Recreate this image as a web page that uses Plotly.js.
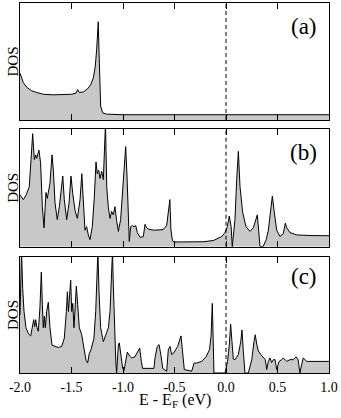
<!DOCTYPE html>
<html>
<head>
<meta charset="utf-8">
<script src="https://cdn.plot.ly/plotly-3.0.1.min.js"></script>
<style>
  html, body { margin: 0; padding: 0; background: #fff; }
  #chart { width: 341px; height: 418px; }
</style>
</head>
<body>
<div id="chart"></div>
<script>
// Energies (eV, relative to E_F) and DOS (arb. units, panel height = 1)
const energyA = [-2.0, -1.993, -1.984, -1.968, -1.935, -1.887, -1.838, -1.773, -1.676, -1.579,
  -1.498, -1.456, -1.44, -1.424, -1.385, -1.346, -1.314, -1.288, -1.269, -1.256,
  -1.248, -1.24, -1.235, -1.23, -1.217, -1.197, -1.159, -1.0, -0.8, -0.6,
  -0.42, -0.4, -0.2, 0.0, 0.2, 0.25, 0.4, 0.6, 0.7, 0.78, 0.9, 1.0];
const dosA = [0.40, 0.38, 0.345, 0.32, 0.28, 0.25, 0.235, 0.22, 0.215, 0.215,
  0.22, 0.23, 0.26, 0.235, 0.24, 0.265, 0.30, 0.36, 0.46, 0.60,
  0.72, 0.84, 0.65, 0.46, 0.12, 0.06, 0.05, 0.045, 0.045, 0.045,
  0.05, 0.045, 0.045, 0.045, 0.045, 0.05, 0.045, 0.045, 0.05, 0.05, 0.05, 0.045];

const energyB = [-2.0, -1.993, -1.968, -1.94, -1.91, -1.893, -1.877, -1.861, -1.848, -1.838,
  -1.816, -1.8, -1.783, -1.767, -1.748, -1.735, -1.709, -1.689, -1.676, -1.66,
  -1.638, -1.618, -1.595, -1.585, -1.57, -1.547, -1.524, -1.505, -1.488, -1.466,
  -1.443, -1.417, -1.40, -1.385, -1.369, -1.353, -1.337, -1.32, -1.298, -1.278,
  -1.262, -1.25, -1.236, -1.223, -1.207, -1.191, -1.18, -1.175, -1.17, -1.158,
  -1.142, -1.126, -1.11, -1.094, -1.078, -1.062, -1.045, -1.023, -1.007, -0.99,
  -0.974, -0.961, -0.948, -0.939, -0.925, -0.91, -0.893, -0.877, -0.861, -0.835,
  -0.803, -0.786, -0.77, -0.754, -0.70, -0.65, -0.61, -0.576, -0.56, -0.545,
  -0.535, -0.52, -0.5, -0.3, -0.22, -0.12, -0.04, -0.01, 0.013, 0.032,
  0.05, 0.061, 0.075, 0.087, 0.104, 0.12, 0.136, 0.162, 0.194, 0.233,
  0.265, 0.291, 0.304, 0.317, 0.33, 0.36, 0.39, 0.411, 0.434, 0.45,
  0.466, 0.492, 0.524, 0.556, 0.576, 0.59, 0.621, 0.686, 0.815, 1.0];
const dosB = [0.44, 0.43, 0.40, 0.44, 0.51, 0.74, 0.96, 0.74, 0.78, 0.75,
  0.82, 0.71, 0.34, 0.16, 0.46, 0.41, 0.54, 0.78, 0.65, 0.37,
  0.23, 0.34, 0.57, 0.60, 0.40, 0.23, 0.37, 0.60, 0.45, 0.31,
  0.24, 0.40, 0.62, 0.40, 0.14, 0.17, 0.10, 0.06, 0.17, 0.43,
  0.72, 0.62, 0.65, 0.58, 0.64, 0.57, 0.80, 1.05, 1.05, 0.51,
  0.33, 0.24, 0.30, 0.27, 0.34, 0.22, 0.13, 0.23, 0.43, 0.60,
  0.85, 0.60, 0.23, 0.045, 0.17, 0.18, 0.17, 0.18, 0.12, 0.08,
  0.085, 0.19, 0.16, 0.15, 0.14, 0.14, 0.145, 0.18, 0.28, 0.40,
  0.15, 0.05, 0.04, 0.04, 0.042, 0.053, 0.087, 0.12, 0.17, 0.26,
  0.17, 0.0, 0.10, 0.23, 0.57, 0.81, 0.51, 0.29, 0.17, 0.13,
  0.16, 0.23, 0.27, 0.14, 0.0, 0.0, 0.06, 0.14, 0.34, 0.43,
  0.31, 0.14, 0.087, 0.11, 0.20, 0.16, 0.12, 0.10, 0.095, 0.093];

const energyC = [-2.0, -1.995, -1.99, -1.985, -1.974, -1.961, -1.942, -1.919, -1.896, -1.877,
  -1.867, -1.857, -1.848, -1.835, -1.822, -1.806, -1.793, -1.783, -1.774, -1.764,
  -1.754, -1.741, -1.725, -1.709, -1.689, -1.66, -1.628, -1.595, -1.57, -1.55,
  -1.54, -1.53, -1.521, -1.508, -1.498, -1.488, -1.476, -1.463, -1.453, -1.44,
  -1.424, -1.401, -1.379, -1.359, -1.343, -1.327, -1.311, -1.298, -1.282, -1.265,
  -1.256, -1.248, -1.244, -1.233, -1.217, -1.191, -1.165, -1.142, -1.126, -1.113,
  -1.106, -1.102, -1.094, -1.084, -1.07, -1.062, -1.055, -1.045, -1.036, -1.023,
  -1.003, -0.99, -0.971, -0.958, -0.94, -0.916, -0.884, -0.851, -0.838, -0.822,
  -0.81, -0.70, -0.689, -0.667, -0.65, -0.631, -0.614, -0.576, -0.56, -0.544,
  -0.528, -0.51, -0.469, -0.437, -0.424, -0.405, -0.333, -0.31, -0.285, -0.236,
  -0.194, -0.16, -0.145, -0.133, -0.125, -0.117, -0.01, 0.015, 0.032, 0.045,
  0.058, 0.071, 0.087, 0.12, 0.143, 0.155, 0.168, 0.184, 0.217, 0.25,
  0.272, 0.284, 0.298, 0.314, 0.337, 0.362, 0.382, 0.395, 0.411, 0.427,
  0.443, 0.46, 0.476, 0.492, 0.515, 0.541, 0.556, 0.589, 0.621, 0.654,
  0.68, 0.70, 0.718, 0.734, 0.75, 0.783, 0.88, 1.0];
const dosC = [0.50, 0.80, 1.05, 1.05, 0.73, 0.53, 0.39, 0.34, 0.32, 0.42,
  0.46, 0.40, 0.46, 0.39, 0.36, 0.57, 0.87, 0.59, 0.39, 0.49,
  0.39, 0.53, 0.61, 0.39, 0.24, 0.23, 0.22, 0.23, 0.30, 0.53,
  0.70, 0.53, 0.675, 0.80, 0.53, 0.60, 0.39, 0.65, 0.75, 0.59,
  0.39, 0.33, 0.22, 0.11, 0.086, 0.17, 0.20, 0.24, 0.30, 0.53,
  0.82, 1.05, 1.05, 0.70, 0.39, 0.27, 0.33, 0.39, 0.53, 0.76,
  1.05, 1.05, 0.76, 0.39, 0.10, 0.0, 0.10, 0.24, 0.26, 0.16,
  0.04, 0.02, 0.13, 0.18, 0.15, 0.13, 0.14, 0.19, 0.215, 0.10,
  0.04, 0.04, 0.13, 0.23, 0.245, 0.15, 0.04, 0.015, 0.20, 0.23,
  0.16, 0.17, 0.23, 0.32, 0.20, 0.03, 0.015, 0.086, 0.086, 0.10,
  0.14, 0.20, 0.32, 0.60, 0.30, 0.0, 0.0, 0.10, 0.24, 0.42,
  0.27, 0.12, 0.115, 0.16, 0.27, 0.37, 0.19, 0.0, 0.0, 0.115,
  0.27, 0.33, 0.25, 0.19, 0.16, 0.13, 0.115, 0.03, 0.10, 0.13,
  0.09, 0.115, 0.115, 0.03, 0.10, 0.115, 0.13, 0.10, 0.115, 0.115,
  0.14, 0.115, 0.0, 0.07, 0.13, 0.10, 0.10, 0.10];

const tickVals = [-2.0, -1.5, -1.0, -0.5, 0.0, 0.5, 1.0];
const tickText = ['-2.0', '-1.5', '-1.0', '-0.5', '0.0', '0.5', '1.0'];
const panelLabels = ['(a)', '(b)', '(c)'];

const serif = '"Liberation Serif", "Times New Roman", Times, serif';

const panels = [
  { x: energyA, y: dosA, xa: 'x', ya: 'y', domain: [0.6838, 1.0] },
  { x: energyB, y: dosB, xa: 'x2', ya: 'y2', domain: [0.3414, 0.6595] },
  { x: energyC, y: dosC, xa: 'x3', ya: 'y3', domain: [0.0, 0.3135] },
];

const traces = panels.map(p => ({
  x: p.x,
  y: p.y,
  xaxis: p.xa,
  yaxis: p.ya,
  type: 'scatter',
  mode: 'lines',
  line: { color: '#000', width: 1 },
  fill: 'tozeroy',
  fillcolor: '#c8c8c8',
  hoverinfo: 'skip',
  showlegend: false,
}));

const layout = {
  width: 341,
  height: 418,
  margin: { l: 20, r: 12, t: 3, b: 45 },
  paper_bgcolor: '#fff',
  plot_bgcolor: '#fff',
  font: { family: serif, color: '#000', size: 14 },
  showlegend: false,
  shapes: [],
  annotations: [{
    // x-axis title, placed by hand under the tick labels
    xref: 'paper', yref: 'paper',
    x: 0.5, y: -0.075,
    xanchor: 'center', yanchor: 'middle',
    text: 'E - E<sub>F</sub> (eV)',
    showarrow: false,
    font: { family: serif, size: 16 },
  }],
};

panels.forEach((p, i) => {
  const n = i === 0 ? '' : String(i + 1);
  const last = i === panels.length - 1;
  layout['xaxis' + n] = {
    domain: [0, 1],
    anchor: 'y' + n,
    range: [-2.0, 1.0],
    tickmode: 'array',
    tickvals: tickVals,
    ticktext: tickText,
    showticklabels: last,
    ticks: 'inside',
    ticklen: 6,
    tickwidth: 1,
    tickcolor: '#000',
    tickfont: { family: serif, size: 14 },
    ticklabelstandoff: 1,
    showline: true,
    mirror: 'ticks',
    linecolor: '#000',
    linewidth: 1,
    showgrid: false,
    zeroline: false,
    fixedrange: true,
  };
  layout['yaxis' + n] = {
    domain: p.domain,
    anchor: 'x' + n,
    range: [0, 1],
    showticklabels: false,
    ticks: '',
    showline: true,
    mirror: true,
    linecolor: '#000',
    linewidth: 1,
    showgrid: false,
    zeroline: false,
    fixedrange: true,
  };
  // Fermi level
  layout.shapes.push({
    type: 'line',
    xref: 'x' + n, yref: 'y' + n + ' domain',
    x0: 0, x1: 0, y0: 0, y1: 1,
    line: { color: '#000', width: 1, dash: '4px,3px' },
  });
  // y label
  layout.annotations.push({
    xref: 'paper', yref: 'y' + n + ' domain',
    x: -0.0226, y: 0.5,
    xanchor: 'center', yanchor: 'middle',
    textangle: -90,
    text: 'DOS',
    showarrow: false,
    font: { family: serif, size: 15 },
  });
  layout.annotations.push({
    xref: 'x' + n + ' domain', yref: 'y' + n + ' domain',
    x: 0.918, y: i === 2 ? 0.83 : 0.80,
    xanchor: 'center', yanchor: 'middle',
    text: panelLabels[i],
    showarrow: false,
    font: { family: serif, size: 23 },
  });
});

Plotly.newPlot('chart', traces, layout, { staticPlot: true, displayModeBar: false });
</script>
</body>
</html>
